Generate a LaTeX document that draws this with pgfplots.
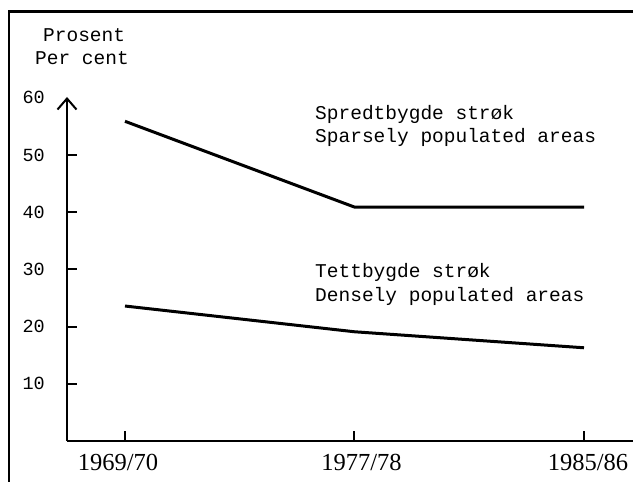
\documentclass[border=0pt]{standalone}
\usepackage{fontspec}
\setmainfont{Liberation Serif}
\newfontfamily\mono{Liberation Mono}
\usepackage{pgfplots}
\pgfplotsset{compat=1.18}
\usetikzlibrary{arrows.meta}
\begin{document}
\begin{tikzpicture}[x=1pt,y=1pt]
\useasboundingbox (0,0) rectangle (633,482);
% frame
\draw[line width=2.4pt] (9,0) -- (9,470.5) -- (633,470.5);
\begin{axis}[
  at={(67pt,41pt)}, anchor=south west,
  scale only axis, width=566pt, height=344pt,
  xmin=-0.2527, xmax=2.2135, ymin=0, ymax=60.15,
  axis lines=left,
  x axis line style={-},
  y axis line style={-{Straight Barb[length=11pt,width=19pt,line width=2pt]}},
  axis line style={line width=2.4pt},
  clip=false,
  tick align=inside,
  major tick length=10pt,
  tick style={line width=2pt, black},
  xtick={0,1,2},
  xticklabels={1969/70\hspace*{14pt},\hspace*{14pt}1977/78,\hspace*{8pt}1985/86},
  ytick={10,20,30,40,50},
  extra y ticks={60},
  extra tick style={major tick length=0pt},
  /pgf/number format/assume math mode=true,
  xticklabel style={font=\fontsize{24.5}{28}\selectfont, anchor=north, inner sep=0pt, yshift=-13pt},
  yticklabel style={font=\mono\fontsize{18.5}{22}\selectfont, anchor=east, inner sep=0pt, xshift=-22pt},
]
\addplot[black, line width=3pt, line join=round] coordinates {(0,55.9) (1,40.9) (2,40.9)};
\addplot[black, line width=3pt, line join=round] coordinates {(0,23.6) (1,19.1) (2,16.3)};
\end{axis}
\begin{scope}[every node/.style={anchor=base west, inner sep=0pt, font=\mono\fontsize{19.5}{23}\selectfont}]
\node at (43,440) {Prosent};
\node at (35,417) {Per cent};
\node at (315,362) {Spredtbygde strøk};
\node at (315,339) {Sparsely populated areas};
\node at (315,204) {Tettbygde strøk};
\node at (315,180) {Densely populated areas};
\end{scope}
\end{tikzpicture}
\end{document}
